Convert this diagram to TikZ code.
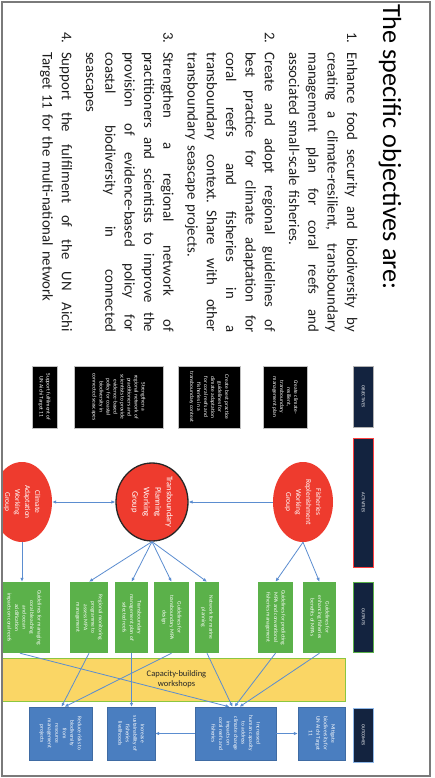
\documentclass[tikz,border=0pt]{standalone}
\usepackage{fontspec}
\setmainfont{Carlito}
\usepackage{graphicx}
\usetikzlibrary{shapes.geometric,arrows.meta,calc}
\definecolor{navy}{HTML}{13233F}
\definecolor{wgred}{HTML}{EE3B2E}
\definecolor{outgreen}{HTML}{5BB14A}
\definecolor{outblue}{HTML}{4A7EC0}
\definecolor{bandfill}{HTML}{FAD665}
\definecolor{bandedge}{HTML}{8CC63F}
\definecolor{arr}{HTML}{5B8DD0}
\definecolor{framec}{HTML}{7A7A7A}
\definecolor{bodytxt}{HTML}{1E1E1E}
\definecolor{edgeblue}{HTML}{8FB8E8}
\newcommand\rtext[1]{\rotatebox{-90}{\begin{tabular}{@{}c@{}}#1\end{tabular}}}
\newcommand\nm[1]{\makebox[20pt][l]{#1}}
\newcommand\jl[1]{\hbox to 280pt{\spaceskip=0.2em plus 1fil\relax #1}}
\newcommand\lastl[1]{\makebox[280pt][l]{#1}}
\tikzset{
  hdr/.style={draw=#1, fill=navy, line width=0.9pt, inner sep=0pt, text=white, font=\fontsize{4.5}{5.5}\selectfont},
  objbox/.style={fill=black, draw=gray!50, line width=0.4pt, inner sep=0pt, text=white, font=\fontsize{5.5}{7}\selectfont},
  wg/.style={ellipse, fill=wgred, inner sep=0pt, text=white, font=\fontsize{7.5}{10}\selectfont},
  outbox/.style={fill=outgreen, inner sep=0pt, text=white, font=\fontsize{5.5}{7.5}\selectfont},
  outcbox/.style={fill=outblue, draw=outblue!85!black, line width=0.3pt, inner sep=0pt, text=white, font=\fontsize{5.5}{7.5}\selectfont},
  conn/.style={draw=arr, line width=0.8pt, -{Latex[length=4pt,width=3.5pt]}},
  dconn/.style={draw=arr, line width=0.8pt, {Latex[length=4pt,width=3.5pt]}-{Latex[length=4pt,width=3.5pt]}}
}
\begin{document}
\begin{tikzpicture}[x=1pt,y=-1pt]
\useasboundingbox (0,0) rectangle (435,778);
\fill[white] (0,0) rectangle (435,778);

\node[rotate=-90, anchor=base west, inner sep=0pt, font=\fontsize{26.2}{31}\selectfont, text=black] (title) at (383,4) {The specific objectives are:};

\node[rotate=-90, anchor=base west, inner sep=0pt, text width=300pt, font=\fontsize{14.8}{19.3}\selectfont, text=bodytxt] (objlist) at (347,32) {%
\nm{1.}\jl{Enhance food security and biodiversity by}\\
\nm{}\jl{creating a climate-resilient, transboundary}\\
\nm{}\jl{management plan for coral reefs and}\\
\nm{}\lastl{associated small-scale fisheries.}\\[5pt]
\nm{2.}\jl{Create and adopt regional guidelines of}\\
\nm{}\jl{best practice for climate adaptation for}\\
\nm{}\jl{coral reefs and fisheries in a}\\
\nm{}\jl{transboundary context. Share with other}\\
\nm{}\lastl{transboundary seascape projects.}\\[5pt]
\nm{3.}\jl{Strengthen a regional network of}\\
\nm{}\jl{practitioners and scientists to improve the}\\
\nm{}\jl{provision of evidence-based policy for}\\
\nm{}\jl{coastal biodiversity in connected}\\
\nm{}\lastl{seascapes}\\[5pt]
\nm{4.}\jl{Support the fulfilment of the UN Aichi}\\
\nm{}\lastl{Target 11 for the multi-national network}};

\begin{scope}
\clip (3,3) rectangle (429,775);
% header column
\node[hdr=gray!60, minimum width=20pt, minimum height=61pt] (hobj) at (363,396.5) {\rtext{OBJECTIVES}};
\node[hdr=red!75, minimum width=20pt, minimum height=129pt] (hact) at (363,502.5) {\rtext{ACTIVITIES}};
\node[hdr=outgreen, minimum width=20pt, minimum height=70pt] (hout) at (363,617) {\rtext{OUTPUTS}};
\node[hdr=edgeblue, minimum width=20pt, minimum height=54pt] (houtc) at (363,735) {\rtext{OUTCOMES}};

% objectives
\node[objbox, minimum width=44pt, minimum height=62pt] (oa) at (285,397) {\rtext{Create climate-\\resilient,\\transboundary\\management plan}};
\node[objbox, minimum width=62pt, minimum height=62pt] (ob) at (209,397) {\rtext{Create best practice\\guidelines for\\climate adaptation\\for coral reefs and\\fisheries in a\\transboundary context}};
\node[objbox, minimum width=89pt, minimum height=62pt] (oc) at (118.5,397) {\rtext{Strengthen a\\regional network of\\practitioners and\\scientists to provide\\evidence-based\\policy for coastal\\biodiversity in\\connected seascapes}};
\node[objbox, minimum width=25pt, minimum height=62pt] (od) at (44.5,397) {\rtext{Support fulfilment of\\UN Aichi Target 11}};

% working groups
\node[wg, minimum width=60pt, minimum height=80pt] (fish) at (303,502) {\rtext{Fisheries\\Replenishment\\Working\\Group}};
\node[wg, draw=black!85, line width=1.3pt, minimum width=72pt, minimum height=78pt, font=\fontsize{8.5}{11.5}\selectfont] (trans) at (152,502) {\rtext{Transboundary\\Planning\\Working\\Group}};
\node[wg, minimum width=60pt, minimum height=80pt] (clim) at (22,502) {\rtext{Climate\\Adaptation\\Working\\Group}};

% outputs
\node[outbox, minimum width=33pt, minimum height=71pt] (g1) at (319.5,617.5) {\rtext{Guidelines for\\enhancing fisheries\\benefits of MPAs}};
\node[outbox, minimum width=35pt, minimum height=71pt] (g2) at (275.5,617.5) {\rtext{Guidelines for predicting\\MPA and conventional\\fisheries management}};
\node[outbox, minimum width=24pt, minimum height=71pt] (g3) at (207,617.5) {\rtext{Network for marine\\planning}};
\node[outbox, minimum width=35pt, minimum height=71pt] (g4) at (171.5,617.5) {\rtext{Guidelines for\\transboundary MPA\\design}};
\node[outbox, minimum width=33pt, minimum height=71pt] (g5) at (131.5,617.5) {\rtext{Transboundary\\management plan of\\selected reefs}};
\node[outbox, minimum width=38pt, minimum height=71pt] (g6) at (89,617.5) {\rtext{Regional monitoring\\programme to\\assess MPA\\management}};
\node[outbox, minimum width=52pt, minimum height=71pt] (g7) at (24,617.5) {\rtext{Guidelines for managing\\coral bleaching\\and ocean\\acidification\\impacts on coral reefs}};

% capacity band
\node[fill=bandfill, draw=bandedge, line width=0.9pt, minimum width=347pt, minimum height=43pt, inner sep=0pt, align=center, font=\fontsize{8.5}{10}\selectfont, text=black!85] (band) at (171.5,679.5) {\hspace*{10pt}Capacity-building\\\hspace*{10pt}workshops};

% outcomes
\node[outcbox, minimum width=47pt, minimum height=53pt] (b1) at (321.5,733.5) {\rtext{Mitigate\\biodiversity for\\UN Aichi Target\\11}};
\node[outcbox, minimum width=81pt, minimum height=53pt] (b2) at (235.5,733.5) {\rtext{Increased\\human capacity\\to address\\climate change\\impacts on\\coral reefs and\\fisheries}};
\node[outcbox, minimum width=48pt, minimum height=53pt] (b3) at (131,733.5) {\rtext{Increase\\sustainability of\\fisheries\\livelihoods}};
\node[outcbox, minimum width=63pt, minimum height=53pt] (b4) at (60.5,733.5) {\rtext{Reduce risks to\\biodiversity\\from\\resource\\management\\projects}};

% connectors
\draw[conn] (fish) -- (trans);
\draw[dconn] (clim) -- (trans);
\draw[conn] (fish.south) -- (g2.north);
\draw[conn] (fish.south) -- (g1.north);
\draw[conn] (trans.south) -- (g3.north);
\draw[conn] (trans.south) -- (g4.north);
\draw[conn] (trans.south) -- (g5.north);
\draw[conn] (trans.south) -- (g6.north);
\draw[conn] (clim.south) -- (clim.south |- g7.north);
\draw[conn] (g1.south) -- ($(b2.north)+(4,0)$);
\draw[conn] (g2.south) -- ($(b2.north)+(-1,0)$);
\draw[conn] (g3.south) -- ($(b2.north)+(-3,0)$);
\draw[conn] ($(g7.south)+(-4,0)$) -- ($(b2.north)+(-6,0)$);
\draw[conn] (g4.south) -- ($(b4.north)+(4,0)$);
\draw[conn] (g6.south) -- ($(b4.north)+(1,0)$);
\draw[conn] (g5.south) -- (g5.south |- b3.north);
\draw[conn] (b2) -- (b1);
\draw[conn] (b2) -- (b3);
\end{scope}

\draw[framec, line width=1.5pt] (2,2) rectangle (430,776);
\end{tikzpicture}
\end{document}
